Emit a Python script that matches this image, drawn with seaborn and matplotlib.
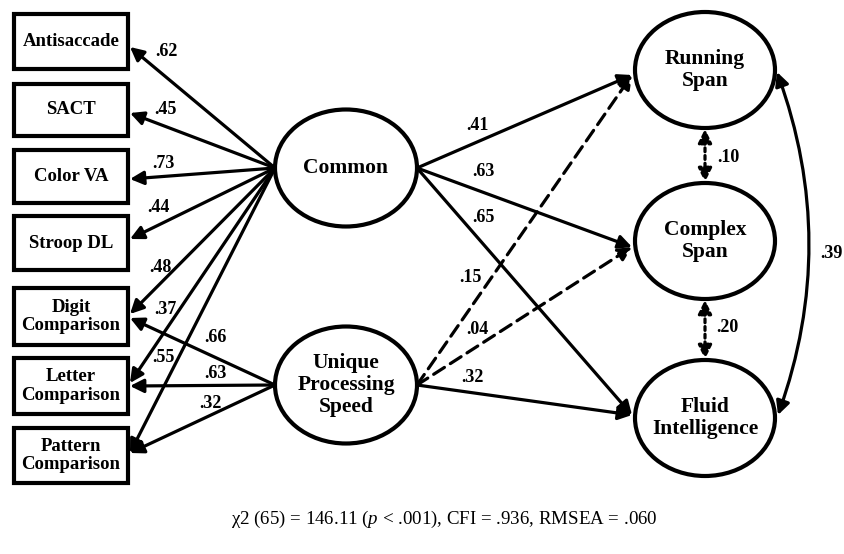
import matplotlib
matplotlib.use("Agg")
import matplotlib.pyplot as plt
from matplotlib.patches import Ellipse, Rectangle
import seaborn as sns

# Diagram content
indicators = ["Antisaccade", "SACT", "Color VA", "Stroop DL",
              "Digit\nComparison", "Letter\nComparison", "Pattern\nComparison"]
common_loadings = [".62", ".45", ".73", ".44", ".48", ".37", ".55"]
speed_loadings = [".66", ".63", ".32"]          # Digit, Letter, Pattern
factors = ["Common", "Unique\nProcessing\nSpeed"]
outcomes = ["Running\nSpan", "Complex\nSpan", "Fluid\nIntelligence"]
common_paths = [".41", ".63", ".65"]
speed_paths = [".15", ".04", ".32"]
speed_path_sig = [False, False, True]
correlations = [".10", ".20", ".39"]
fit_text = "χ2 (65) = 146.11 ($p$ < .001), CFI = .936, RMSEA = .060"

# Layout (pixel coordinates, y downwards)
box_x0, box_x1 = 14, 128
box_top = [14, 84, 150, 216, 288, 358, 428]
box_bot = [69, 136, 203, 270, 345, 414, 483]
common_tip_y = [47, 113, 179, 239, 314, 383, 453]
speed_tip_y = [318, 386, 453]
common_lbl = [(166, 52), (165, 110), (163, 163), (158, 208), (160, 267), (165, 310), (163, 358)]
speed_lbl = [(215, 338), (215, 373), (210, 403)]

fac_c = [(346, 168), (346, 385)]
fac_w, fac_h = 142, 117
out_c = [(705, 70), (705, 241), (705, 418)]
out_w, out_h = 140, 116
out_tip_y = [75, 247, 415]
common_path_lbl = [(477, 125), (483, 172), (483, 218)]
speed_path_lbl = [(470, 277), (477, 330), (472, 377)]
corr_lbl = [(728, 157), (727, 328), (831, 253)]

sns.set_theme(style="white")
plt.rcParams['font.family'] = ['Liberation Serif', 'DejaVu Serif']
plt.rcParams['text.color'] = 'black'
plt.rcParams['mathtext.fontset'] = 'custom'
plt.rcParams['mathtext.rm'] = 'Liberation Serif'
plt.rcParams['mathtext.it'] = 'Liberation Serif:italic'

fig = plt.figure(figsize=(8.44, 5.54), dpi=100)
ax = fig.add_axes([0, 0, 1, 1])
ax.set_xlim(0, 844)
ax.set_ylim(554, 0)
ax.axis("off")

LW = 2.3
HEAD = "-|>,head_length=0.9,head_width=0.45"
HEAD2 = "<|-|>,head_length=0.9,head_width=0.45"


def arrow(start, end, style=HEAD, ls="-", conn="arc3,rad=0"):
    ax.annotate("", xy=end, xytext=start,
                arrowprops=dict(arrowstyle=style, color="black", lw=LW,
                                linestyle=ls, shrinkA=0, shrinkB=0,
                                mutation_scale=9, connectionstyle=conn))


def coef(xy, s):
    ax.text(xy[0], xy[1], s, fontsize=13, fontweight="bold",
            ha="center", va="center", color="black")


# indicator boxes
for name, t, b in zip(indicators, box_top, box_bot):
    ax.add_patch(Rectangle((box_x0, t), box_x1 - box_x0, b - t, fill=False,
                           lw=3, edgecolor="black"))
    ax.text((box_x0 + box_x1) / 2, (t + b) / 2, name, fontsize=13.5,
            fontweight="bold", ha="center", va="center", linespacing=1.1,
            color="black")

# latent factors
for name, c in zip(factors, fac_c):
    ax.add_patch(Ellipse(c, fac_w, fac_h, fill=False, lw=3, edgecolor="black"))
    ax.text(c[0], c[1], name, fontsize=15.5, fontweight="bold",
            ha="center", va="center", linespacing=1.15, color="black")
for name, c in zip(outcomes, out_c):
    ax.add_patch(Ellipse(c, out_w, out_h, fill=False, lw=3, edgecolor="black"))
    ax.text(c[0], c[1], name, fontsize=15.5, fontweight="bold",
            ha="center", va="center", linespacing=1.15, color="black")

# loadings
c_left = (fac_c[0][0] - fac_w / 2, fac_c[0][1])
s_left = (fac_c[1][0] - fac_w / 2, fac_c[1][1])
for ty, lbl, pos in zip(common_tip_y, common_loadings, common_lbl):
    arrow(c_left, (box_x1 + 2, ty))
    coef(pos, lbl)
for ty, lbl, pos in zip(speed_tip_y, speed_loadings, speed_lbl):
    arrow(s_left, (box_x1 + 2, ty))
    coef(pos, lbl)

# structural paths
c_right = (fac_c[0][0] + fac_w / 2, fac_c[0][1])
s_right = (fac_c[1][0] + fac_w / 2, fac_c[1][1])
out_left = [c[0] - out_w / 2 - 3 for c in out_c]
for ox, ty, lbl, pos in zip(out_left, out_tip_y, common_paths, common_path_lbl):
    arrow(c_right, (ox, ty))
    coef(pos, lbl)
for ox, ty, lbl, pos, sig in zip(out_left, out_tip_y, speed_paths, speed_path_lbl, speed_path_sig):
    arrow(s_right, (ox, ty), ls="-" if sig else (0, (4, 2.2)))
    coef(pos, lbl)

# correlations between outcomes
for i in range(2):
    x = out_c[i][0]
    arrow((x, out_c[i][1] + out_h / 2 + 1), (x, out_c[i + 1][1] - out_h / 2 - 1),
          style=HEAD2, ls=(0, (1.2, 1.2)))
    coef(corr_lbl[i], correlations[i])
arrow((out_c[0][0] + out_w / 2 + 2, out_c[0][1] + 2),
      (out_c[2][0] + out_w / 2 + 3, out_c[2][1] - 3),
      style=HEAD2, conn="arc3,rad=-0.18")
coef(corr_lbl[2], correlations[2])

ax.text(444, 519, fit_text, fontsize=13.6, ha="center", va="center",
        color="black")

fig.savefig("out.png", dpi=100)
